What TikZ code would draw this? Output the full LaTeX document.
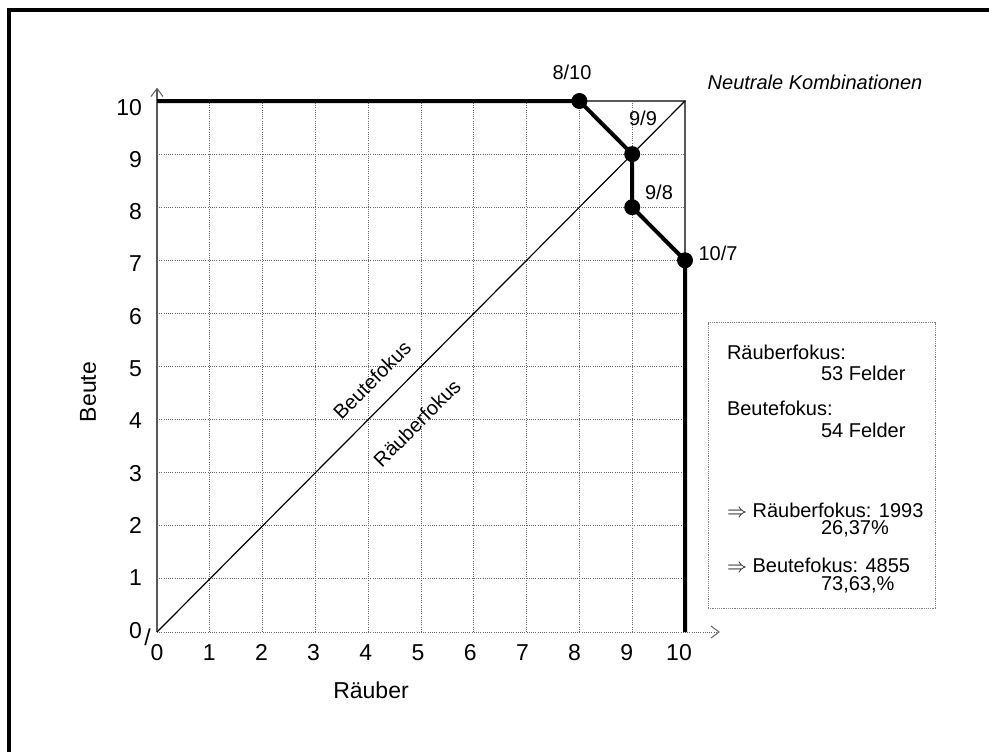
\documentclass[tikz,border=0pt]{standalone}
\usepackage{fontspec}
\setmainfont{Liberation Sans}
\usetikzlibrary{arrows.meta}

\begin{document}
\begin{tikzpicture}[x=0.5pt,y=-0.5pt,
  every node/.style={inner sep=0pt, outer sep=0pt},
  txt/.style={font=\fontsize{10}{12}\selectfont},
  ticklabel/.style={font=\fontsize{11.5}{13}\selectfont},
  axislabel/.style={font=\fontsize{11.5}{13}\selectfont},
  gridline/.style={black!60, line width=0.5pt, dash pattern=on 0.5pt off 0.6pt},
  axisline/.style={black!65, line width=0.6pt},
  tip/.style={-{Straight Barb[length=4pt,width=6pt,line width=0.5pt]}},
  focusline/.style={black, line width=0.6pt},
  boundary/.style={black, line width=2pt, line join=round, line cap=butt},
  dot/.style={circle, fill=black, minimum size=8pt},
  legendbox/.style={draw=black!50, line width=0.5pt, dash pattern=on 0.6pt off 0.5pt}
]
\useasboundingbox (0,0) rectangle (989,751);

% outer frame (top and left edges)
\draw[line width=1.6pt, line cap=butt, line join=miter] (9,760) |- (1000,10);

% chart area: one unit per field
\begin{scope}[shift={(157,632)}, x=26.4pt, y=26.55pt]
  \coordinate (o) at (0,0);
  \coordinate (xend) at (10.66,0);
  \coordinate (yend) at (0,10.25);
  \coordinate (tl) at (0,10);
  \coordinate (tr) at (10,10);
  \coordinate (br) at (10,0);

  % dotted grid
  \foreach \i in {1,...,9} {
    \draw[gridline] (\i,0) -- (\i,10);
    \draw[gridline] (0,\i) -- (10,\i);
  }
  % axes
  \draw[gridline, tip] (o) -- (xend);
  \draw[axisline, tip] (o) -- (yend);
  \draw[axisline] (tl) -- (tr) -- (br);

  % diagonal between the two focus regions
  \draw[focusline] (o) -- (tr);

  % neutral combinations
  \node[dot] (p810) at (8,10) {};
  \node[dot] (p99)  at (9,9)  {};
  \node[dot] (p98)  at (9,8)  {};
  \node[dot] (p107) at (10,7) {};
  \draw[boundary] (tl) -- (p810.center) -- (p99.center) -- (p98.center) -- (p107.center) -- (br);
\end{scope}

% tick labels (placed on their baselines)
\foreach \k in {0,...,10} {
  \node[ticklabel, anchor=base east] (yl\k) at (142, {638-52.3*\k}) {\k};
  \node[ticklabel, anchor=base] (xl\k) at ({157+52.2*\k}, 660) {\k};
}
\node[ticklabel] (slash) at (147.5,637) {/};

% axis titles
\node[axislabel] (xtitle) at (371,690) {Räuber};
\node[axislabel, rotate=90] (ytitle) at (88,392) {Beute};

% point labels
\node[txt] (l810) at (572,72)  {8/10};
\node[txt] (l99)  at (643,118) {9/9};
\node[txt] (l98)  at (659,192) {9/8};
\node[txt] (l107) at (718,253) {10/7};
\node[txt, font=\fontsize{10}{12}\selectfont\itshape] (neutral) at (815,82) {Neutrale Kombinationen};

% region labels along the diagonal
\node[txt, rotate=45] (bf) at (372,380) {Beutefokus};
\node[txt, rotate=45] (rf) at (417,423) {Räuberfokus};

% summary box
\node[legendbox, anchor=north west, minimum width=113.5pt, minimum height=143pt] (legend) at (708,322) {};
\node[txt, anchor=west] (s1) at (727,352) {Räuberfokus:};
\node[txt, anchor=west] (s2) at (821,373) {53 Felder};
\node[txt, anchor=west] (s3) at (727,408) {Beutefokus:};
\node[txt, anchor=west] (s4) at (821,430) {54 Felder};
\node[txt, anchor=west] (s5) at (727,510) {$\Rightarrow$ Räuberfokus: 1993};
\node[txt, anchor=west] (s6) at (821,529) {26,37\%};
\node[txt, anchor=west] (s7) at (727,565) {$\Rightarrow$ Beutefokus: 4855};
\node[txt, anchor=west] (s8) at (821,585) {73,63,\%};
\end{tikzpicture}
\end{document}
